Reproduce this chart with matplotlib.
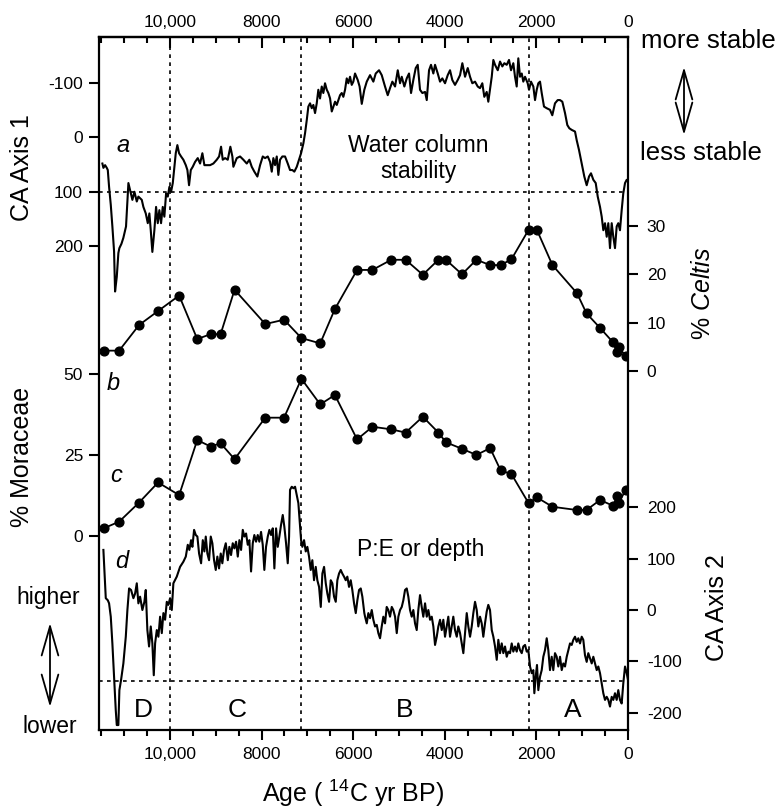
import matplotlib
matplotlib.use('Agg')
import matplotlib.pyplot as plt
from matplotlib.ticker import MultipleLocator, FuncFormatter

plt.rcParams['font.family'] = 'Liberation Sans'
plt.rcParams['mathtext.fontset'] = 'custom'
plt.rcParams['mathtext.rm'] = 'Liberation Sans'
plt.rcParams['mathtext.it'] = 'Liberation Sans:italic'
plt.rcParams['axes.unicode_minus'] = False

# a: CA Axis 1 (water column stability)
a_age = [11476, 11454, 11417, 11380, 11358, 11330, 11293, 11258, 11221, 11199, 11162, 11127, 11105, 11060,
         11018, 10960, 10930, 10908, 10871, 10821, 10777, 10725, 10690, 10616, 10581, 10529, 10485, 10450,
         10420, 10385, 10341, 10304, 10267, 10232, 10195, 10158, 10123, 10085, 10048, 10013, 9976, 9939,
         9904, 9874, 9839, 9802, 9758, 9708, 9655, 9620, 9584, 9546, 9503, 9452, 9394, 9343, 9293, 9249,
         9197, 9125, 9053, 8979, 8928, 8885, 8848, 8797, 8739, 8682, 8638, 8616, 8542, 8470, 8398, 8324,
         8267, 8215, 8158, 8092, 8033, 7974, 7924, 7865, 7815, 7778, 7743, 7706, 7669, 7634, 7597, 7547,
         7488, 7429, 7379, 7328, 7285, 7232, 7182, 7138, 7088, 7051, 7014, 6979, 6942, 6905, 6870, 6833,
         6796, 6761, 6724, 6687, 6652, 6615, 6577, 6542, 6505, 6468, 6433, 6396, 6359, 6324, 6287, 6250,
         6215, 6178, 6141, 6106, 6069, 6032, 5997, 5960, 5901, 5860, 5813, 5757, 5704, 5632, 5560, 5508,
         5436, 5377, 5305, 5246, 5196, 5145, 5086, 5027, 4977, 4940, 4883, 4831, 4781, 4737, 4687, 4635,
         4591, 4541, 4490, 4431, 4394, 4344, 4301, 4250, 4213, 4154, 4104, 4054, 3995, 3936, 3886, 3836,
         3777, 3718, 3667, 3617, 3558, 3499, 3449, 3399, 3340, 3281, 3231, 3181, 3137, 3085, 3050, 3013,
         2975, 2940, 2903, 2844, 2794, 2744, 2700, 2648, 2598, 2554, 2504, 2467, 2430, 2395, 2358, 2320,
         2286, 2248, 2190, 2161, 2118, 2067, 2030, 1993, 1958, 1921, 1884, 1834, 1775, 1703, 1653, 1594,
         1535, 1484, 1434, 1375, 1325, 1281, 1229, 1157, 1120, 1070, 1011, 954, 902, 851, 808, 757,
         705, 661, 611, 574, 539, 502, 465, 430, 393, 356, 321, 284, 247, 212, 175, 138, 103, 65, 28, 0]
ca1 = [48, 56, 51, 56, 60, 91, 124, 164, 210, 284, 257, 213, 204, 196,
       185, 164, 118, 84, 97, 115, 100, 118, 109, 115, 128, 140, 158, 140,
       171, 211, 171, 128, 158, 134, 158, 128, 146, 103, 109, 91, 100, 84,
       54, 29, 14, 29, 35, 41, 51, 60, 88, 60, 54, 45, 38, 48, 29, 51,
       51, 51, 48, 41, 35, 17, 41, 38, 41, 17, 35, 54, 38, 35, 41, 48,
       41, 54, 63, 72, 51, 35, 38, 35, 45, 63, 38, 51, 35, 69, 41, 35,
       35, 48, 60, 60, 63, 54, 41, 29, 11, -8, -32, -57, -63, -54, -60, -45,
       -63, -88, -72, -94, -82, -100, -88, -82, -72, -48, -57, -66, -60, -69, -78, -82,
       -75, -88, -109, -100, -112, -97, -103, -118, -106, -94, -62, -88, -103, -115, -103, -118,
       -124, -115, -94, -78, -91, -103, -94, -124, -100, -112, -94, -109, -118, -82, -106, -128,
       -134, -88, -82, -84, -69, -124, -134, -118, -134, -118, -103, -109, -100, -115, -124, -106,
       -97, -106, -115, -137, -112, -128, -112, -100, -103, -94, -91, -100, -75, -84, -66, -88,
       -112, -143, -134, -124, -140, -131, -137, -134, -143, -124, -137, -112, -94, -146, -112, -118,
       -103, -112, -100, -88, -103, -94, -69, -88, -100, -103, -82, -57, -54, -51, -41, -63,
       -69, -69, -66, -45, -23, -17, -14, -11, 5, 23, 48, 72, 88, 72, 66, 78,
       84, 109, 128, 146, 171, 158, 183, 158, 204, 158, 183, 204, 164, 158, 171, 134, 103, 84, 78, 80]

# b, c: pollen samples
pollen_age = [11440, 11110, 10675, 10260, 9800, 9405, 9115, 8895, 8590, 7920, 7510, 7130, 6720, 6400,
              5915, 5580, 5170, 4855, 4480, 4140, 3975, 3625, 3310, 3010, 2780, 2545, 2170, 1990,
              1650, 1115, 905, 610, 325, 240, 200, 50]
celtis = [4.2, 4.2, 9.5, 12.4, 15.6, 6.6, 7.6, 7.6, 16.8, 9.7, 10.6, 6.8, 5.7, 12.8,
          20.9, 20.9, 23.0, 23.0, 19.9, 23.0, 23.0, 20.0, 23.0, 21.9, 21.9, 23.1, 29.2, 29.2,
          21.9, 16.1, 11.9, 8.9, 5.9, 3.9, 5.0, 3.0]
moraceae = [2.4, 4.4, 10.3, 16.5, 12.6, 29.6, 27.6, 28.6, 23.7, 36.5, 36.5, 48.5, 40.6, 43.5,
            29.8, 33.7, 32.9, 31.9, 36.8, 31.9, 28.9, 26.9, 25.0, 27.1, 20.2, 19.1, 10.1, 11.9,
            9.0, 8.0, 8.0, 11.1, 9.3, 12.3, 10.3, 14.2]

# d: CA Axis 2 (P:E or depth)
d_age = [11454, 11432, 11402, 11358, 11330, 11293, 11258, 11221, 11184, 11162, 11127, 11105, 11068, 11018,
         10965, 10930, 10893, 10850, 10799, 10762, 10725, 10690, 10653, 10603, 10559, 10529, 10494, 10457,
         10420, 10385, 10354, 10325, 10288, 10253, 10216, 10179, 10144, 10107, 10070, 10035, 9998, 9961,
         9926, 9852, 9780, 9708, 9655, 9612, 9577, 9540, 9511, 9474, 9437, 9402, 9365, 9321, 9284, 9249,
         9219, 9184, 9147, 9110, 9075, 9038, 9001, 8966, 8929, 8892, 8857, 8820, 8782, 8738, 8704, 8667,
         8630, 8594, 8557, 8520, 8485, 8448, 8411, 8376, 8339, 8302, 8267, 8230, 8193, 8158, 8121, 8084,
         8049, 8012, 7975, 7940, 7903, 7865, 7830, 7793, 7756, 7721, 7684, 7647, 7612, 7575, 7538, 7503,
         7466, 7429, 7400, 7379, 7341, 7306, 7269, 7232, 7197, 7160, 7138, 7110, 7073, 7036, 7001, 6964,
         6927, 6892, 6855, 6818, 6783, 6745, 6708, 6673, 6636, 6599, 6564, 6527, 6490, 6455, 6418, 6381,
         6346, 6309, 6272, 6237, 6200, 6163, 6128, 6091, 6054, 6019, 5981, 5944, 5909, 5872, 5835, 5800,
         5757, 5741, 5704, 5669, 5632, 5595, 5560, 5523, 5486, 5451, 5414, 5377, 5342, 5305, 5268, 5233,
         5196, 5158, 5124, 5086, 5049, 5014, 4977, 4940, 4905, 4868, 4831, 4796, 4759, 4722, 4687, 4650,
         4613, 4578, 4541, 4504, 4469, 4431, 4394, 4359, 4322, 4285, 4250, 4213, 4176, 4141, 4104, 4067,
         4032, 3995, 3958, 3923, 3886, 3849, 3814, 3777, 3739, 3705, 3667, 3630, 3595, 3558, 3521, 3486,
         3449, 3412, 3377, 3340, 3303, 3268, 3231, 3194, 3159, 3122, 3085, 3050, 3013, 2975, 2940, 2903,
         2866, 2831, 2794, 2757, 2722, 2685, 2648, 2613, 2576, 2539, 2504, 2467, 2430, 2395, 2358, 2320,
         2286, 2248, 2211, 2176, 2139, 2102, 2067, 2045, 2015, 1987, 1958, 1921, 1884, 1849, 1812, 1775,
         1740, 1703, 1666, 1631, 1594, 1557, 1522, 1484, 1447, 1412, 1375, 1338, 1303, 1266, 1229, 1194,
         1157, 1120, 1085, 1048, 1011, 976, 939, 902, 867, 830, 792, 757, 720, 683, 648, 611,
         574, 539, 502, 465, 430, 393, 356, 321, 284, 247, 212, 175, 138, 103, 65, 28, 0]
ca2 = [117, 78, 23, 19, 13, -13, -65, -130, -195, -224, -224, -156, -136, -104,
       -52, 0, 42, 39, 23, 32, 52, 13, 26, 0, 16, 39, -39, -71,
       -32, -65, -127, -65, -39, -52, -13, -45, -6, -19, 16, 10, 23, 0,
       52, 65, 84, 94, 104, 127, 117, 136, 123, 156, 146, 143, 110, 91, 136, 114,
       143, 110, 97, 143, 130, 97, 78, 104, 81, 110, 91, 117, 130, 97, 123, 107,
       130, 120, 133, 104, 136, 117, 156, 143, 149, 127, 136, 75, 130, 146, 133, 146,
       133, 152, 127, 78, 123, 143, 156, 146, 159, 81, 159, 123, 143, 166, 185, 162,
       130, 91, 143, 234, 240, 237, 240, 224, 208, 162, 136, 123, 136, 114, 123, 104,
       78, 97, 58, 84, 58, 45, 6, 71, 84, 52, 32, 16, 58, 52, 26, 16,
       58, 71, 78, 71, 65, 58, 65, 45, 58, 39, 13, -6, 19, 39, 42, 26,
       -6, -13, -26, -6, -16, 0, -19, -32, -29, -45, -55, -32, -13, -26, 6, 0,
       -13, 6, 0, -13, -45, -13, 0, 6, 19, 39, 42, 26, 0, -13, 0, -26,
       -39, 0, 29, 6, -13, 13, -13, 0, -19, -13, -32, -68, -52, -32, -19, -39,
       -19, -52, -32, -13, -52, -32, -13, -39, -52, -32, -45, -65, -84, -45, -6, -32,
       -52, -32, -6, 16, 0, -32, -13, -26, -52, -26, -3, 10, 0, -39, -52, -71,
       -97, -58, -84, -65, -84, -71, -91, -81, -84, -65, -81, -71, -81, -65, -78, -84,
       -71, -68, -81, -78, -110, -123, -117, -162, -130, -107, -156, -130, -117, -91, -78, -55,
       -78, -117, -91, -117, -84, -91, -110, -91, -117, -104, -110, -91, -78, -65, -68, -58,
       -52, -62, -55, -65, -52, -58, -88, -101, -84, -94, -104, -91, -104, -117, -110, -123,
       -143, -162, -175, -169, -175, -188, -169, -175, -162, -175, -156, -175, -182, -143, -110, -123, -136]

zone_bounds = [10000, 7150, 2170]
zone_names = ['D', 'C', 'B', 'A']
zone_centres = [10590, 8540, 4870, 1200]
x_major = [10000, 8000, 6000, 4000, 2000, 0]


def fx(px):
    return px / 782


def fy(py):
    return 1 - py / 810


fig = plt.figure(figsize=(7.82, 8.10), dpi=100)
ax = fig.add_axes([fx(99), fy(730), fx(529), 693 / 810])
ax.set_xlim(11550, 0)
ax.set_ylim(1092.5, -185.3)

axm = ax.twinx()
axc = ax.twinx()
axd = ax.twinx()
for t in (axm, axc, axd):
    for s in t.spines.values():
        s.set_visible(False)
    t.patch.set_visible(False)
axm.set_ylim(-59.9, 154.0)
axc.set_ylim(-74.3, 69.1)
axd.set_ylim(-233.6, 1115.6)

for s in ax.spines.values():
    s.set_linewidth(1.6)

# reference lines
dot = dict(color='black', lw=1.2, dashes=(2.2, 2.6))
for b in zone_bounds:
    ax.axvline(b, **dot)
ax.axhline(100, **dot)
axd.axhline(-138, **dot)

# series
ax.plot(a_age, ca1, color='black', lw=1.5)
axd.plot(d_age, ca2, color='black', lw=1.5)
axc.plot(pollen_age, celtis, color='black', lw=1.3, marker='o', ms=6.3)
axm.plot(pollen_age, moraceae, color='black', lw=1.3, marker='o', ms=6.3)

# x axis
fmt = FuncFormatter(lambda v, p: f'{v:,.0f}' if v >= 10000 else f'{v:.0f}')
ax.set_xticks(x_major)
ax.xaxis.set_minor_locator(MultipleLocator(500))
ax.xaxis.set_major_formatter(fmt)
ax.tick_params(axis='x', which='major', direction='out', length=7.5, width=1.5,
               labelsize=12.5, pad=5, top=False)
ax.tick_params(axis='x', which='minor', direction='out', length=4.5, width=1.5, top=False)

sec = ax.secondary_xaxis('top')
sec.set_xticks(x_major)
sec.xaxis.set_minor_locator(MultipleLocator(500))
sec.xaxis.set_major_formatter(fmt)
sec.tick_params(which='major', direction='in', length=8, width=1.5, labelsize=12.5, pad=5)
sec.tick_params(which='minor', direction='in', length=4.5, width=1.5)
sec.spines['top'].set_linewidth(1.6)

# y axes
ax.set_yticks([-100, 0, 100, 200])
ax.tick_params(axis='y', direction='out', length=7.5, width=1.5, labelsize=12.5, pad=4,
               left=True, right=False)
axm.yaxis.set_ticks_position('left')
axm.set_yticks([0, 25, 50])
axm.tick_params(axis='y', direction='out', length=7.5, width=1.5, labelsize=12.5, pad=4,
                left=True, right=False, labelleft=True, labelright=False)
axc.set_yticks([0, 10, 20, 30])
axc.tick_params(axis='y', direction='out', length=7.5, width=1.5, labelsize=12.5, pad=6)
axd.set_yticks([-200, -100, 0, 100, 200])
axd.tick_params(axis='y', direction='out', length=7.5, width=1.5, labelsize=12.5, pad=6)

# series letters
ax.text(11030, 26, 'a', style='italic', fontsize=17, ha='center', va='baseline')
axc.text(11250, -3.9, 'b', style='italic', fontsize=17, ha='center', va='baseline')
axm.text(11185, 16.8, 'c', style='italic', fontsize=17, ha='center', va='baseline')
axd.text(11046, 82, 'd', style='italic', fontsize=17, ha='center', va='baseline')

ax.text(4584, 26, 'Water column', fontsize=16.5, ha='center', va='baseline')
ax.text(4584, 75, 'stability', fontsize=16.5, ha='center', va='baseline')
axd.text(4519, 105, 'P:E or depth', fontsize=16.5, ha='center', va='baseline')

for name, xc in zip(zone_names, zone_centres):
    ax.text(xc, 0.019, name, fontsize=19, ha='center', va='baseline',
            transform=ax.get_xaxis_transform())

# axis titles
fig.text(fx(22), fy(168), 'CA Axis 1', rotation=90, fontsize=18, ha='center', va='center')
fig.text(fx(22), fy(457), '% Moraceae', rotation=90, fontsize=18, ha='center', va='center')
fig.text(fx(703), fy(293), r'% $\mathit{Celtis}$', rotation=90, fontsize=18, ha='center', va='center')
fig.text(fx(717), fy(608), 'CA Axis 2', rotation=90, fontsize=18, ha='center', va='center')
fig.text(fx(353), fy(793), r'Age ( $^{14}$C yr BP)', fontsize=18, ha='center', va='center')

# stability / depth keys
fig.text(fx(641), fy(48), 'more stable', fontsize=18.5, ha='left', va='baseline')
fig.text(fx(640), fy(160), 'less stable', fontsize=18.5, ha='left', va='baseline')
fig.text(fx(48), fy(604), 'higher', fontsize=16.5, ha='center', va='baseline')
fig.text(fx(50), fy(733), 'lower', fontsize=16.5, ha='center', va='baseline')
arrow = dict(arrowstyle='<->,head_length=2.1,head_width=0.6', lw=1.3, color='black',
             shrinkA=0, shrinkB=0)
fig.add_artist(matplotlib.patches.FancyArrowPatch((fx(684), fy(67)), (fx(684), fy(135)),
                                                  transform=fig.transFigure, mutation_scale=10,
                                                  **arrow))
fig.add_artist(matplotlib.patches.FancyArrowPatch((fx(50), fy(623)), (fx(50), fy(707)),
                                                  transform=fig.transFigure, mutation_scale=10,
                                                  **arrow))

fig.savefig('out.png', dpi=100)
